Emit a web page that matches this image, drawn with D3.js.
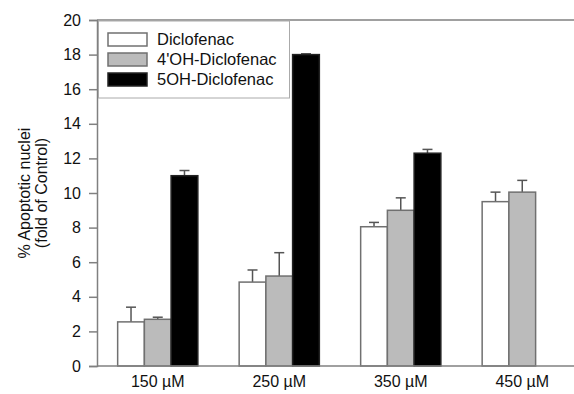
<!DOCTYPE html>
<html>
<head>
<meta charset="utf-8">
<script src="https://cdn.jsdelivr.net/npm/d3@7"></script>
<style>
  html, body { margin: 0; padding: 0; background: #fff; }
  svg { display: block; font-family: "Liberation Sans", Arial, sans-serif; }
</style>
</head>
<body>
<svg id="chart" width="574" height="394"></svg>
<script>
// Concentrations and compound series
const doses = ["150 µM", "250 µM", "350 µM", "450 µM"];
const compounds = ["Diclofenac", "4'OH-Diclofenac", "5OH-Diclofenac"];
const fills = ["#ffffff", "#bbbbbb", "#000000"];

// Mean apoptotic nuclei (fold of control) per dose, and upper error (SD)
const diclofenac      = [2.55, 4.85, 8.05, 9.5];
const diclofenacErr   = [0.85, 0.7, 0.25, 0.55];
const oh4Diclofenac   = [2.7, 5.2, 9.0, 10.05];
const oh4DiclofenacErr= [0.12, 1.35, 0.72, 0.68];
const oh5Diclofenac   = [11.0, 18.0, 12.3, null];
const oh5DiclofenacErr= [0.3, 0.05, 0.22, null];

const yTicks = [0, 2, 4, 6, 8, 10, 12, 14, 16, 18, 20];

const seriesVals = [diclofenac, oh4Diclofenac, oh5Diclofenac];
const seriesErrs = [diclofenacErr, oh4DiclofenacErr, oh5DiclofenacErr];

const svg = d3.select("#chart");
const axisColor = "#808080";

const y = d3.scaleLinear().domain([0, 20]).range([366, 20]);
const x0 = d3.scaleBand().domain(doses).range([97, 583])
  .paddingInner(0.34).paddingOuter(0.17);
const x1 = d3.scaleBand().domain(compounds).range([0, x0.bandwidth()]).padding(0);

// Frame: top line
svg.append("line")
  .attr("x1", 97).attr("x2", 574).attr("y1", y(20)).attr("y2", y(20))
  .attr("stroke", axisColor).attr("stroke-width", 1.5);

// Bars
const groups = svg.append("g").selectAll("g")
  .data(doses).join("g")
  .attr("transform", d => `translate(${x0(d)},0)`);

groups.each(function(dose, i) {
  const g = d3.select(this);
  compounds.forEach((c, k) => {
    const v = seriesVals[k][i];
    if (v == null) return;
    const e = seriesErrs[k][i];
    const bx = x1(c), bw = x1.bandwidth();
    const cx = bx + bw / 2;
    // error bar (upper only)
    g.append("line")
      .attr("x1", cx).attr("x2", cx).attr("y1", y(v)).attr("y2", y(v + e))
      .attr("stroke", "#555").attr("stroke-width", 1.5);
    g.append("line")
      .attr("x1", cx - 5).attr("x2", cx + 5).attr("y1", y(v + e)).attr("y2", y(v + e))
      .attr("stroke", "#555").attr("stroke-width", 1.5);
    g.append("rect")
      .attr("x", bx).attr("y", y(v))
      .attr("width", bw).attr("height", y(0) - y(v))
      .attr("fill", fills[k])
      .attr("stroke", k === 2 ? "#222" : "#707070")
      .attr("stroke-width", 1.5);
  });
});

// Y axis
const yAxis = svg.append("g")
  .attr("transform", "translate(97,0)")
  .call(d3.axisLeft(y).tickValues(yTicks).tickSize(8).tickPadding(8));
yAxis.select(".domain").attr("stroke", axisColor).attr("stroke-width", 1.5);
yAxis.selectAll(".tick line").attr("stroke", axisColor).attr("stroke-width", 1.5);
yAxis.selectAll(".tick text")
  .attr("fill", "#111").attr("font-size", 16)
  .attr("font-family", "Liberation Sans, Arial, sans-serif");

// X axis
const xAxis = svg.append("g")
  .attr("transform", `translate(0,${y(0)})`)
  .call(d3.axisBottom(x0).tickSize(0).tickPadding(10));
xAxis.select(".domain").attr("d", `M97,0H574`)
  .attr("stroke", axisColor).attr("stroke-width", 1.5);
xAxis.selectAll(".tick text")
  .attr("fill", "#111").attr("font-size", 16)
  .attr("font-family", "Liberation Sans, Arial, sans-serif");

// Y axis title
const yTitle = svg.append("text")
  .attr("transform", "translate(30,193) rotate(-90)")
  .attr("text-anchor", "middle")
  .attr("font-size", 16).attr("fill", "#111");
yTitle.append("tspan").attr("x", 0).attr("dy", 0).text("% Apoptotic nuclei");
yTitle.append("tspan").attr("x", 0).attr("dy", 17).text("(fold of Control)");

// Legend
const legend = svg.append("g");
legend.append("rect")
  .attr("x", 98.5).attr("y", 21).attr("width", 191).attr("height", 77)
  .attr("fill", "#fff").attr("stroke", "#aaa").attr("stroke-width", 1);
compounds.forEach((c, k) => {
  const ly = 33 + k * 20;
  legend.append("rect")
    .attr("x", 108).attr("y", ly).attr("width", 39).attr("height", 13)
    .attr("fill", fills[k])
    .attr("stroke", k === 2 ? "#222" : "#707070").attr("stroke-width", 1.5);
  legend.append("text")
    .attr("x", 157).attr("y", ly + 12)
    .attr("font-size", 16.5).attr("fill", "#111")
    .text(c);
});
</script>
</body>
</html>
